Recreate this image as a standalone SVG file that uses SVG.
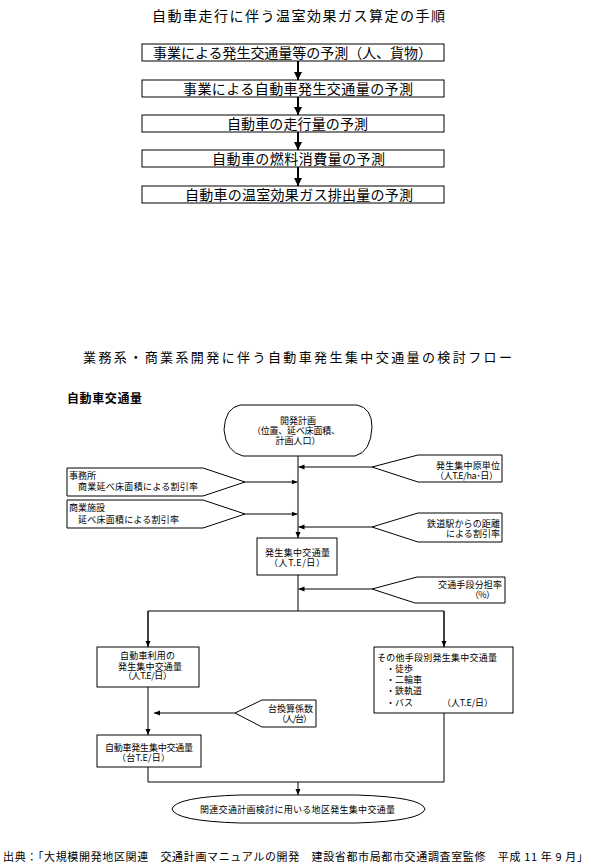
<svg xmlns="http://www.w3.org/2000/svg" width="591" height="868" viewBox="0 0 591 868">
<style>
.t{font-family:"Noto Sans CJK JP","Noto Sans CJK SC",sans-serif;fill:#000}
.b14{font-size:14px}
.s9{font-size:9px}
.bx{fill:#fff;stroke:#000;stroke-width:1}
.ln{fill:none;stroke:#000;stroke-width:1}
.th{fill:none;stroke:#000;stroke-width:2}
.m{text-anchor:middle}
.e{text-anchor:end}
</style>
<defs>
<marker id="ab" markerUnits="userSpaceOnUse" markerWidth="8" markerHeight="8" viewBox="0 0 8 8" refX="8" refY="4" orient="auto"><path d="M0,0 L8,4 L0,8 z" fill="#000"/></marker>
<marker id="as" markerUnits="userSpaceOnUse" markerWidth="6" markerHeight="6" viewBox="0 0 6 6" refX="6" refY="3" orient="auto"><path d="M0,0.5 L6,3 L0,5.5 z" fill="#000"/></marker>
</defs>

<text class="t b14 m" x="298.5" y="21" textLength="293" lengthAdjust="spacing">自動車走行に伴う温室効果ガス算定の手順</text>

<g id="connectors-top">
<line class="th" x1="298" y1="61" x2="298" y2="80" marker-end="url(#ab)"/>
<line class="th" x1="298" y1="97" x2="298" y2="115" marker-end="url(#ab)"/>
<line class="th" x1="298" y1="132" x2="298" y2="150" marker-end="url(#ab)"/>
<line class="th" x1="298" y1="167" x2="298" y2="186" marker-end="url(#ab)"/>
</g>

<g id="step1"><rect class="bx" x="142" y="44" width="302" height="17"/><text class="t b14 m" x="292.5" y="57.5" textLength="279" lengthAdjust="spacing">事業による発生交通量等の予測（人、貨物）</text></g>
<g id="step2"><rect class="bx" x="142" y="80" width="302" height="17"/><text class="t b14 m" x="298" y="93.5" textLength="230" lengthAdjust="spacing">事業による自動車発生交通量の予測</text></g>
<g id="step3"><rect class="bx" x="142" y="115" width="302" height="17"/><text class="t b14 m" x="297.5" y="128.5" textLength="141" lengthAdjust="spacing">自動車の走行量の予測</text></g>
<g id="step4"><rect class="bx" x="142" y="150" width="302" height="17"/><text class="t b14 m" x="298.5" y="163.5" textLength="173" lengthAdjust="spacing">自動車の燃料消費量の予測</text></g>
<g id="step5"><rect class="bx" x="142" y="186" width="302" height="17"/><text class="t b14 m" x="299" y="199.5" textLength="228" lengthAdjust="spacing">自動車の温室効果ガス排出量の予測</text></g>

<text class="t m" style="font-size:13px" x="297.5" y="362" textLength="429" lengthAdjust="spacing">業務系・商業系開発に伴う自動車発生集中交通量の検討フロー</text>
<text class="t" style="font-size:12px;font-weight:bold" x="67" y="403" textLength="75" lengthAdjust="spacing">自動車交通量</text>

<g id="connectors">
<line class="ln" x1="298" y1="456" x2="298" y2="538" marker-end="url(#as)"/>
<line class="ln" x1="372" y1="467" x2="298.5" y2="467" marker-end="url(#as)"/>
<line class="ln" x1="245" y1="482" x2="297.5" y2="482" marker-end="url(#as)"/>
<line class="ln" x1="245" y1="514" x2="297.5" y2="514" marker-end="url(#as)"/>
<line class="ln" x1="372" y1="527" x2="298.5" y2="527" marker-end="url(#as)"/>
<line class="ln" x1="298" y1="575" x2="298" y2="611"/>
<line class="ln" x1="372" y1="589" x2="298.5" y2="589" marker-end="url(#as)"/>
<polyline class="ln" points="148,647 148,611 444,611 444,647"/>
<line class="ln" x1="148" y1="611" x2="148" y2="647" marker-end="url(#as)"/>
<line class="ln" x1="444" y1="611" x2="444" y2="647" marker-end="url(#as)"/>
<line class="ln" x1="148" y1="687" x2="148" y2="735" marker-end="url(#as)"/>
<line class="ln" x1="235" y1="713" x2="154" y2="713" marker-end="url(#as)"/>
<polyline class="ln" points="148,767 148,782 444,782 444,713"/>
<line class="ln" x1="298" y1="782" x2="298" y2="795" marker-end="url(#as)"/>
</g>

<g id="start">
<path class="bx" d="M240,405 L357,405 Q372,408 372,427 Q371,452 355,456 L243,456 Q226,452 224,430 Q225,408 240,405 Z"/>
<text class="t s9 m" x="298" y="423.5">開発計画</text>
<text class="t s9 m" x="296" y="433.5" textLength="88" lengthAdjust="spacing">（位置、延べ床面積、</text>
<text class="t s9 m" x="298" y="443.5">計画人口）</text>
</g>

<g id="unit">
<polygon class="bx" points="372,467 418,455 502,455 502,482 418,482"/>
<text class="t s9 e" x="500" y="469" textLength="64" lengthAdjust="spacing">発生集中原単位</text>
<text class="t s9 e" x="498" y="478.5" textLength="63" lengthAdjust="spacing">（人T.E/ha･日）</text>
</g>

<g id="office">
<polygon class="bx" points="67,468 203,468 245,482 203,496 67,496"/>
<text class="t s9" x="69" y="479" textLength="27" lengthAdjust="spacing">事務所</text>
<text class="t s9" x="78" y="490" textLength="120" lengthAdjust="spacing">商業延べ床面積による割引率</text>
</g>

<g id="commercial">
<polygon class="bx" points="67,500 203,500 245,514 203,528 67,528"/>
<text class="t s9" x="69" y="511" textLength="36" lengthAdjust="spacing">商業施設</text>
<text class="t s9" x="78" y="522.5" textLength="101" lengthAdjust="spacing">延べ床面積による割引率</text>
</g>

<g id="station">
<polygon class="bx" points="372,527 418,513 502,513 502,542 418,542"/>
<text class="t s9 e" x="500" y="526.5" textLength="73" lengthAdjust="spacing">鉄道駅からの距離</text>
<text class="t s9 e" x="500" y="537" textLength="54" lengthAdjust="spacing">による割引率</text>
</g>

<g id="total">
<rect class="bx" x="257" y="538" width="80" height="37"/>
<text class="t s9 m" x="297.5" y="556" textLength="65" lengthAdjust="spacing">発生集中交通量</text>
<text class="t s9 m" x="297" y="566" textLength="56" lengthAdjust="spacing">（人T.E/日）</text>
</g>

<g id="modal">
<polygon class="bx" points="372,589 417,577 505,577 505,603 415,603"/>
<text class="t s9 e" x="502" y="587.5" textLength="64" lengthAdjust="spacing">交通手段分担率</text>
<text class="t s9" x="470" y="597.5" textLength="25" lengthAdjust="spacing">（%）</text>
</g>

<g id="carperson">
<rect class="bx" x="97" y="647" width="102" height="40"/>
<text class="t s9 m" x="147.5" y="658.5" textLength="55" lengthAdjust="spacing">自動車利用の</text>
<text class="t s9 m" x="150" y="669.5" textLength="64" lengthAdjust="spacing">発生集中交通量</text>
<text class="t s9 m" x="147.5" y="679" textLength="49" lengthAdjust="spacing">（人T.E/日）</text>
</g>

<g id="othermodes">
<rect class="bx" x="374" y="647" width="139" height="66"/>
<text class="t s9" x="377" y="660.5" textLength="120" lengthAdjust="spacing">その他手段別発生集中交通量</text>
<text class="t s9" x="386" y="671.8">・徒歩</text>
<text class="t s9" x="386" y="683.1">・二輪車</text>
<text class="t s9" x="386" y="694.4">・鉄軌道</text>
<text class="t s9" x="386" y="705.7">・バス</text>
<text class="t s9" x="442" y="705.7" textLength="51" lengthAdjust="spacing">（人T.E/日）</text>
</g>

<g id="factor">
<polygon class="bx" points="235,713 262,700 316,700 316,727 262,727"/>
<text class="t s9 e" x="313" y="711.5" textLength="45" lengthAdjust="spacing">台換算係数</text>
<text class="t s9" x="277" y="721.5" textLength="35" lengthAdjust="spacing">（人/台）</text>
</g>

<g id="carvehicle">
<rect class="bx" x="97" y="735" width="104" height="32"/>
<text class="t s9 m" x="149" y="750.5" textLength="88" lengthAdjust="spacing">自動車発生集中交通量</text>
<text class="t s9 m" x="143.5" y="760.5" textLength="53" lengthAdjust="spacing">（台T.E/日）</text>
</g>

<g id="result">
<path class="bx" d="M172,809 Q175,797 240,795 L356,795 Q422,797 425,809 Q422,821 356,823 L240,823 Q175,821 172,809 Z"/>
<text class="t s9 m" x="297.5" y="812.5" textLength="195" lengthAdjust="spacing">関連交通計画検討に用いる地区発生集中交通量</text>
</g>

<text class="t" style="font-size:11px" x="3" y="861" textLength="585" lengthAdjust="spacing">出典：「大規模開発地区関連　交通計画マニュアルの開発　建設省都市局都市交通調査室監修　平成 11 年 9 月」</text>
</svg>
